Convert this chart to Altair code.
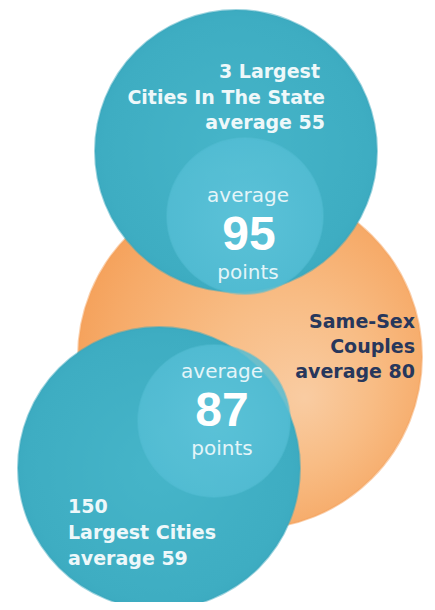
import altair as alt
import pandas as pd

# ---- data ----
groups = ["3 Largest Cities In The State", "Same-Sex Couples", "150 Largest Cities"]
group_avgs = [55, 80, 59]
overlap_avgs = [95, 87]

# ---- layout (page pixel coordinates) ----
circles = pd.DataFrame({
    "name": ["orange", "top", "bottom", "top_in", "bottom_in"],
    "cx": [250, 236, 159, 245, 214],
    "cy": [357, 151, 468, 216, 421],
    "r": [172, 141, 141, 78, 76],
})
circles["size"] = 4 * circles["r"] ** 2  # vega circle size = (diameter)^2

W, H = 419, 594
xs = alt.Scale(domain=[8, 8 + W])
ys = alt.Scale(domain=[8 + H, 8])

base = alt.Chart(circles)

def circ(name, fill, edge, opacity=1.0):
    return base.transform_filter(alt.datum.name == name).mark_circle(
        fill=fill, opacity=opacity, stroke=edge, strokeWidth=2, strokeOpacity=0.5
    ).encode(
        x=alt.X("cx:Q", scale=xs, axis=None),
        y=alt.Y("cy:Q", scale=ys, axis=None),
        size=alt.Size("size:Q", scale=None, legend=None),
    )

orange_grad = alt.Gradient(
    gradient="radial", x1=0.66, y1=0.62, r1=0.0, x2=0.55, y2=0.52, r2=0.56,
    stops=[alt.GradientStop(color="#f9cca2", offset=0),
           alt.GradientStop(color="#f8bc84", offset=0.45),
           alt.GradientStop(color="#f6aa68", offset=0.85),
           alt.GradientStop(color="#f5a25c", offset=1)],
)
teal_grad = alt.Gradient(
    gradient="radial", x1=0.5, y1=0.5, r1=0.0, x2=0.5, y2=0.5, r2=0.55,
    stops=[alt.GradientStop(color="#46b5c9", offset=0),
           alt.GradientStop(color="#3eadc2", offset=0.85),
           alt.GradientStop(color="#3aa8be", offset=1)],
)
inner_grad = alt.Gradient(
    gradient="radial", x1=0.5, y1=0.5, r1=0.0, x2=0.5, y2=0.5, r2=0.55,
    stops=[alt.GradientStop(color="#60c5db", offset=0),
           alt.GradientStop(color="#53bdd4", offset=1)],
)

layers = [
    circ("orange", orange_grad, "#f5a25c"),
    circ("top", teal_grad, "#3aa8be"),
    circ("bottom", teal_grad, "#3aa8be"),
    circ("top_in", inner_grad, "#53bdd4", 0.85),
    circ("bottom_in", inner_grad, "#53bdd4", 0.85),
]

labels = pd.DataFrame({
    "text": ["3 Largest", "Cities In The State", f"average {group_avgs[0]}",
             "Same-Sex", "Couples", f"average {group_avgs[1]}",
             "150", "Largest Cities", f"average {group_avgs[2]}"],
    "x": [320, 325, 325, 415, 415, 415, 68, 68, 68],
    "y": [72, 98, 123, 322, 347, 372, 507, 533, 559],
    "align": ["right"] * 6 + ["left"] * 3,
    "color": ["#eef8fa"] * 3 + ["#27375c"] * 3 + ["#eef8fa"] * 3,
})

def txt(df, align, color, size, weight, font):
    return alt.Chart(df).mark_text(
        align=align, baseline="middle", color=color, fontSize=size,
        fontWeight=weight, font=font,
    ).encode(
        x=alt.X("x:Q", scale=xs, axis=None),
        y=alt.Y("y:Q", scale=ys, axis=None),
        text="text:N",
    )

for (a, c), sub in labels.groupby(["align", "color"]):
    layers.append(txt(sub, a, c, 19, "bold", "DejaVu Sans"))

overlap_small = pd.DataFrame({
    "text": ["average", "points", "average", "points"],
    "x": [248, 248, 222, 222],
    "y": [196, 273, 372, 449],
})
overlap_big = pd.DataFrame({
    "text": [str(v) for v in overlap_avgs],
    "x": [249, 222],
    "y": [236, 412],
})
layers.append(txt(overlap_small, "center", "#e4f5f9", 20, "normal", "DejaVu Sans"))
layers.append(txt(overlap_big, "center", "#ffffff", 48, "bold", "Liberation Sans"))

chart = alt.layer(*layers).properties(
    width=W, height=H, padding=0, autosize=alt.AutoSizeParams(type="none"),
    background="#ffffff",
).configure_view(stroke=None)

chart.save("out.html", embed_options={"renderer": "svg", "actions": False})
